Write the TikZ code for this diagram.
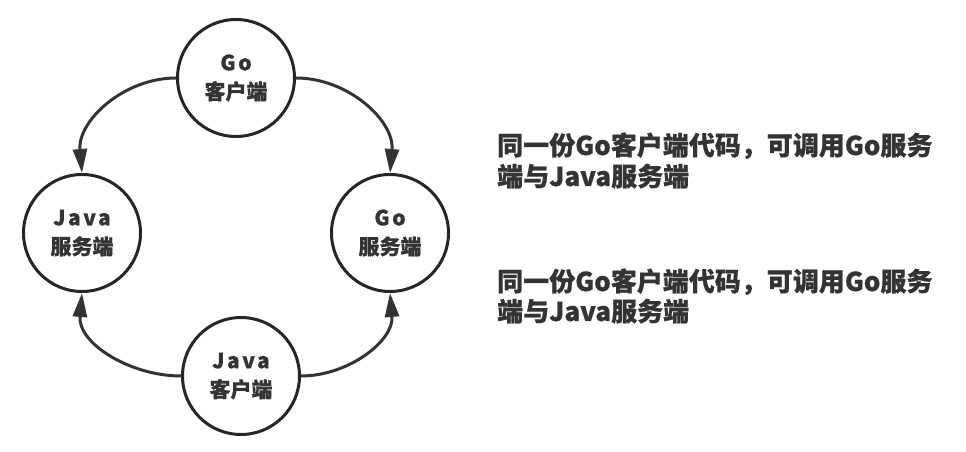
\documentclass[tikz,border=0pt]{standalone}
\usepackage{fontspec}
\newfontfamily\cjk{Noto Sans CJK SC}[BoldFeatures={FakeBold=0.6}]
\newfontfamily\cjksp{Noto Sans CJK SC}[LetterSpace=12,BoldFeatures={FakeBold=0.6}]
\usetikzlibrary{arrows.meta}
\definecolor{ink}{HTML}{333333}
\definecolor{rim}{HTML}{262626}
\tikzset{
  peer/.style={circle, draw=rim, line width=3pt, minimum size=117pt, inner sep=0pt, align=center, text=ink, font=\cjk\bfseries\fontsize{21}{29}\selectfont},
  conn/.style={draw=ink, line width=3pt, -{Triangle[length=24pt,width=14pt]}},
  note/.style={anchor=base west, inner sep=0pt, text=ink, font=\cjk\bfseries\fontsize{26}{32}\selectfont}
}
\begin{document}
\begin{tikzpicture}[x=1pt,y=1pt]
\useasboundingbox (0,0) rectangle (966,452);
\node[peer] (T) at (236,374) {{\cjksp\bfseries Go}\\客户端};
\node[peer] (L) at (82,219) {{\cjksp\bfseries Java}\\服务端};
\node[peer] (R) at (390,219) {{\cjksp\bfseries Go}\\服务端};
\node[peer] (B) at (241,76) {{\cjksp\bfseries Java}\\客户端};
\draw[conn] (T.west) to[out=180,in=95] (L.north);
\draw[conn] (T.east) to[out=0,in=85] (R.north);
\draw[conn] (B.west) to[out=180,in=-95] (L.south);
\draw[conn] (B.east) to[out=0,in=-85] (R.south);
\node[note] (n1) at (497,297) {同一份Go客户端代码，可调用Go服务};
\node[note] (n2) at (497,266) {端与Java服务端};
\node[note] (n3) at (497,161) {同一份Go客户端代码，可调用Go服务};
\node[note] (n4) at (497,131) {端与Java服务端};
\end{tikzpicture}
\end{document}
